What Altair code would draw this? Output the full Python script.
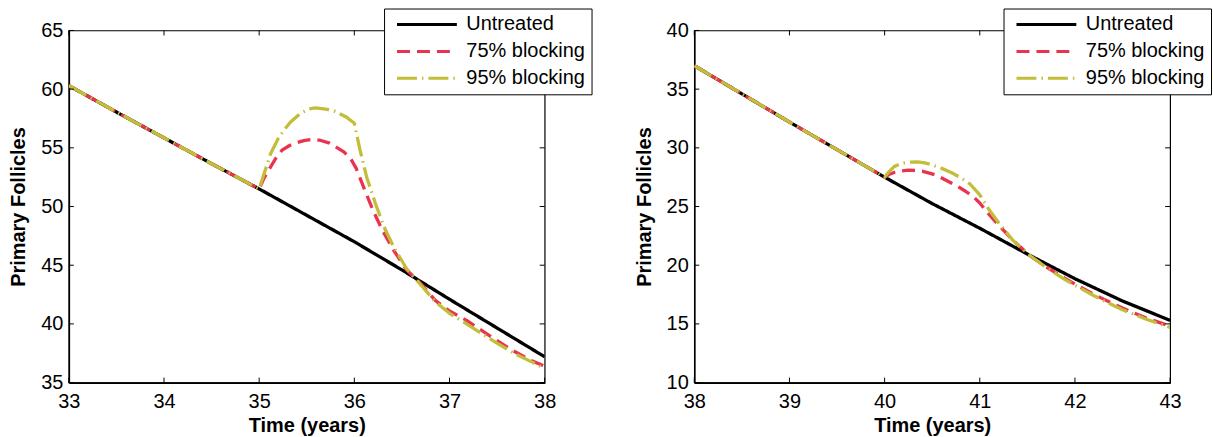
import altair as alt
import pandas as pd

# ---- series values -------------------------------------------------------
series_names = ["Untreated", "75% blocking", "95% blocking"]
series_colors = ["#000000", "#E8344E", "#C2BE3A"]
series_dashes = [[1, 0], [13, 7], [20, 5, 1.5, 5]]

# left panel: ages 33-38
left_untreated_t = [33, 33.5, 34, 34.5, 35, 35.5, 36, 36.5, 37, 37.5, 38]
left_untreated_v = [60.3, 58.05, 55.85, 53.65, 51.5, 49.25, 47.0, 44.6, 42.1, 39.65, 37.2]

left_75_t = [33, 33.5, 34, 34.5, 35, 35.05, 35.1, 35.17, 35.24, 35.32, 35.4, 35.47, 35.54,
             35.64, 35.74, 35.83, 35.89, 35.96, 36.02, 36.11, 36.2, 36.3, 36.41, 36.55,
             36.69, 36.85, 37.0, 37.18, 37.4, 37.63, 37.85, 38]
left_75_v = [60.3, 58.05, 55.85, 53.65, 51.5, 52.4, 53.1, 54.05, 54.8, 55.2, 55.45, 55.62,
             55.7, 55.65, 55.4, 54.95, 54.66, 54.1, 53.25, 51.4, 49.6, 47.9, 46.3, 44.6,
             43.5, 42.0, 41.1, 40.3, 39.1, 37.9, 36.9, 36.4]

left_95_t = [33, 33.5, 34, 34.5, 35, 35.06, 35.12, 35.2, 35.27, 35.33, 35.4, 35.45, 35.52,
             35.59, 35.66, 35.73, 35.8, 35.92, 36.0, 36.06, 36.13, 36.22, 36.31, 36.41,
             36.55, 36.69, 36.85, 37.0, 37.2, 37.49, 37.7, 37.88, 38]
left_95_v = [60.3, 58.05, 55.85, 53.65, 51.5, 53.0, 54.5, 55.8, 56.6, 57.2, 57.7, 58.0, 58.3,
             58.4, 58.35, 58.25, 58.1, 57.6, 57.1, 54.8, 52.5, 50.3, 48.3, 46.6,
             44.7, 43.4, 41.9, 40.9, 39.9, 38.4, 37.4, 36.7, 36.2]

# right panel: ages 38-43
right_untreated_t = [38, 38.5, 39, 39.5, 40, 40.5, 41, 41.5, 42, 42.5, 43]
right_untreated_v = [37.0, 34.6, 32.2, 29.85, 27.5, 25.25, 23.15, 20.95, 18.85, 16.95, 15.3]

right_75_t = [38, 38.5, 39, 39.5, 40, 40.05, 40.1, 40.17, 40.25, 40.32, 40.4, 40.47, 40.55,
              40.62, 40.7, 40.78, 40.85, 40.93, 41.0, 41.1, 41.2, 41.35, 41.54, 41.7, 41.9,
              42.2, 42.5, 42.75, 43]
right_75_v = [37.0, 34.6, 32.2, 29.85, 27.5, 27.75, 27.9, 28.03, 28.1, 28.08, 28.0, 27.85,
              27.65, 27.35, 27.0, 26.65, 26.3, 25.85, 25.3, 24.3, 23.4, 22.1, 20.74, 19.85,
              18.85, 17.5, 16.35, 15.5, 14.8]

right_95_t = [38, 38.5, 39, 39.5, 40, 40.05, 40.1, 40.15, 40.2, 40.27, 40.35, 40.42, 40.5,
              40.6, 40.7, 40.8, 40.9, 41.0, 41.1, 41.2, 41.35, 41.54, 41.7, 41.9, 42.2,
              42.5, 42.75, 43]
right_95_v = [37.0, 34.6, 32.2, 29.85, 27.5, 28.0, 28.4, 28.58, 28.7, 28.78, 28.8, 28.72,
              28.55, 28.25, 27.9, 27.45, 26.9, 26.0, 24.7, 23.6, 22.1, 20.74, 19.8, 18.75,
              17.4, 16.2, 15.4, 14.7]

# tick labels
left_x_ticks = [33, 34, 35, 36, 37, 38]
left_y_ticks = [35, 40, 45, 50, 55, 60, 65]
right_x_ticks = [38, 39, 40, 41, 42, 43]
right_y_ticks = [10, 15, 20, 25, 30, 35, 40]

FONT = "Liberation Sans"
W, H = 477, 353
TICK = 5


def frame(t, v, name):
    return pd.DataFrame({"t": t, "v": v, "series": name})


def panel(curves, x_ticks, y_ticks, legend_x):
    x_scale = alt.Scale(domain=[x_ticks[0], x_ticks[-1]], nice=False, zero=False)
    y_scale = alt.Scale(domain=[y_ticks[0], y_ticks[-1]], nice=False, zero=False)
    x_axis = alt.Axis(title="Time (years)", values=x_ticks, format="d", grid=False,
                      ticks=False, tickSize=0, labelPadding=9, titlePadding=4,
                      labelFlush=False, labelOverlap=False, domainColor="black",
                      domainWidth=1.6, labelFont=FONT, labelFontSize=20,
                      labelColor="black", titleFont=FONT, titleFontSize=20,
                      titleFontWeight="bold", titleColor="black")
    y_axis = alt.Axis(title="Primary Follicles", values=y_ticks, format="d", grid=False,
                      ticks=False, tickSize=0, labelPadding=6, titlePadding=12,
                      labelFlush=False, labelOverlap=False, domainColor="black",
                      domainWidth=1.6, labelFont=FONT, labelFontSize=20,
                      labelColor="black", titleFont=FONT, titleFontSize=20,
                      titleFontWeight="bold", titleColor="black")
    legend = alt.Legend(title=None, orient="none", legendX=legend_x, legendY=-22,
                        symbolType="stroke", symbolSize=3600, symbolStrokeWidth=3,
                        clipHeight=20, rowPadding=7, padding=6, symbolOffset=5.5,
                        labelOffset=8, labelFontSize=20, labelFont=FONT,
                        labelColor="black", labelLimit=300, strokeColor="black",
                        fillColor="white")
    color = alt.Color("series:N", scale=alt.Scale(domain=series_names, range=series_colors),
                      legend=legend)
    dash = alt.StrokeDash("series:N",
                          scale=alt.Scale(domain=series_names, range=series_dashes),
                          legend=legend)

    layers = []
    for (t, v), name in zip(curves, series_names):
        layers.append(
            alt.Chart(frame(t, v, name)).mark_line(
                strokeWidth=3.3, interpolate="linear", clip=True, strokeCap="butt",
                strokeJoin="round"
            ).encode(
                x=alt.X("t:Q", scale=x_scale, axis=x_axis),
                y=alt.Y("v:Q", scale=y_scale, axis=y_axis),
                color=color,
                strokeDash=dash,
            )
        )

    # inward-pointing ticks on all four sides of the box
    xt = pd.DataFrame({"t": x_ticks})
    yt = pd.DataFrame({"v": y_ticks})
    tick_style = dict(color="black", strokeWidth=1)
    for y0, y1 in [(H, H - TICK), (0, TICK)]:
        layers.append(
            alt.Chart(xt).mark_rule(**tick_style).encode(
                x=alt.X("t:Q", scale=x_scale, axis=x_axis),
                y=alt.value(y0), y2=alt.value(y1),
            )
        )
    for x0, x1 in [(0, TICK), (W, W - TICK)]:
        layers.append(
            alt.Chart(yt).mark_rule(**tick_style).encode(
                y=alt.Y("v:Q", scale=y_scale, axis=y_axis),
                x=alt.value(x0), x2=alt.value(x1),
            )
        )
    return alt.layer(*layers).properties(width=W, height=H)


left = panel([(left_untreated_t, left_untreated_v), (left_75_t, left_75_v),
              (left_95_t, left_95_v)], left_x_ticks, left_y_ticks, 316)
right = panel([(right_untreated_t, right_untreated_v), (right_75_t, right_75_v),
               (right_95_t, right_95_v)], right_x_ticks, right_y_ticks, 310)

chart = (
    alt.hconcat(left, right, spacing=150, bounds="flush")
    .resolve_scale(x="independent", y="independent", color="independent",
                   strokeDash="independent")
    .resolve_legend(color="independent", strokeDash="independent")
    .properties(padding={"left": 8, "top": 6, "right": 0, "bottom": 0},
                background="white")
    .configure_view(stroke="black", strokeWidth=1.2)
)

chart.save("out.html", embed_options={"renderer": "svg", "actions": False})
